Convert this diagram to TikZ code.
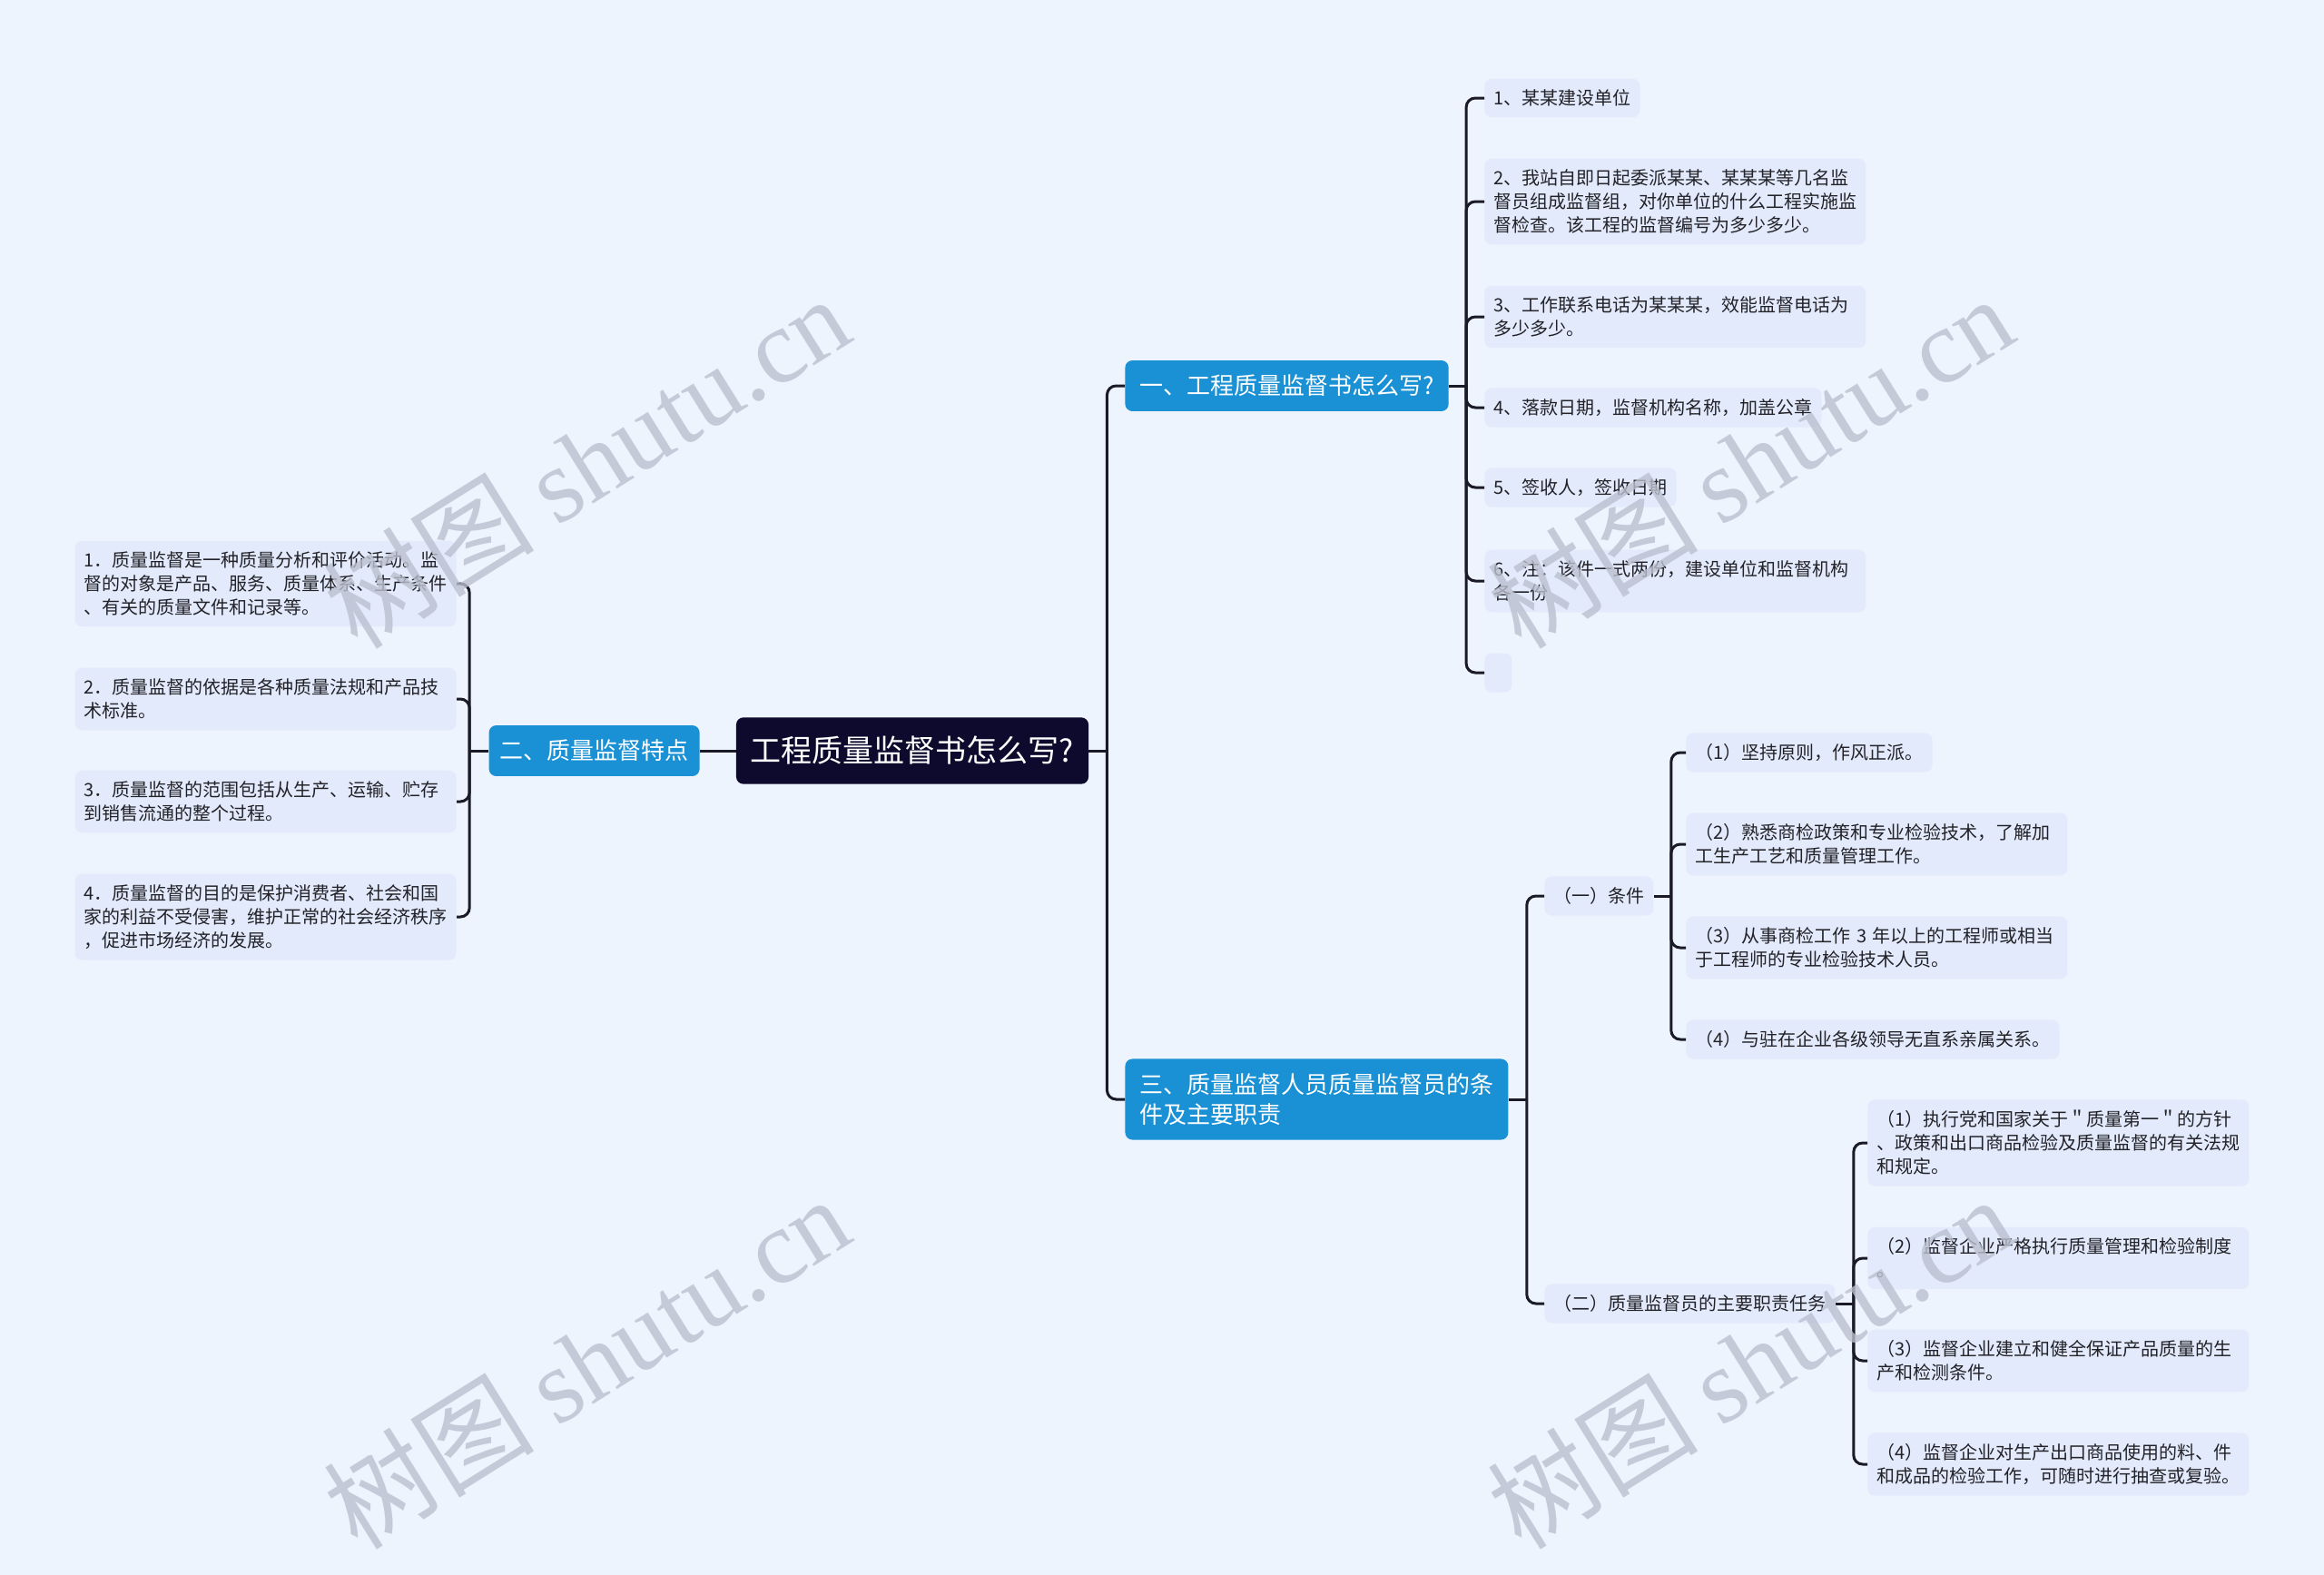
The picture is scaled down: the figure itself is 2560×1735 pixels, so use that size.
\documentclass[tikz,border=0pt]{standalone}
\usepackage{fontspec}
\setmainfont{Noto Sans CJK SC}
\newfontfamily\wmserif{Liberation Serif}
\definecolor{bgblue}{RGB}{238,244,254}
\definecolor{leafblue}{RGB}{226,234,251}
\definecolor{branchblue}{RGB}{26,145,212}
\definecolor{topicnavy}{RGB}{14,10,46}
\definecolor{linkdark}{RGB}{26,26,40}
\definecolor{leaftext}{RGB}{34,34,40}
\definecolor{wmgray}{RGB}{186,192,206}

\begin{document}
\begin{tikzpicture}[x=0.5pt, y=-0.5pt,
  every node/.style={rounded corners=4pt, align=left},
  topic/.style={fill=topicnavy, text=white, inner xsep=8pt, inner ysep=10.5pt,
    font=\fontsize{17}{20}\selectfont},
  branch/.style={fill=branchblue, text=white, inner xsep=8pt, inner ysep=8pt,
    font=\fontsize{13}{16.5}\selectfont},
  sub/.style={fill=leafblue, text=leaftext, inner xsep=5pt, inner ysep=6pt,
    font=\fontsize{10}{13}\selectfont},
  leaf/.style={fill=leafblue, text=leaftext, inner xsep=5pt, inner ysep=6pt,
    font=\fontsize{10}{13}\selectfont},
  wide/.style={text width=200pt},
  link/.style={draw=linkdark, line width=1.5pt, rounded corners=5pt},
  wmark/.style={rotate=32, text=wmgray, text opacity=0.8, font=\fontsize{58}{62}\selectfont}]

\useasboundingbox (0,0) rectangle (2560,1735);
\fill[bgblue] (0,0) rectangle (2560,1735);

% centre
\node[topic] (topic) at (1005,827) {工程质量监督书怎么写?};

% main branches
\node[branch, anchor=west] (b1) at (1239,425) {一、工程质量监督书怎么写?};
\node[branch, anchor=east, inner xsep=6pt] (b2) at (771,827) {二、质量监督特点};
\node[branch, anchor=west] (b3) at (1239,1211) {三、质量监督人员质量监督员的条\\件及主要职责};

% branch one
\node[leaf, anchor=west] (a1) at (1635,108) {1、某某建设单位};
\node[leaf, wide, anchor=west] (a2) at (1635,222) {2、我站自即日起委派某某、某某某等几名监\\督员组成监督组，对你单位的什么工程实施监\\督检查。该工程的监督编号为多少多少。};
\node[leaf, wide, anchor=west] (a3) at (1635,349) {3、工作联系电话为某某某，效能监督电话为\\多少多少。};
\node[leaf, anchor=west] (a4) at (1635,449) {4、落款日期，监督机构名称，加盖公章};
\node[leaf, anchor=west] (a5) at (1635,537) {5、签收人，签收日期};
\node[leaf, wide, anchor=west] (a6) at (1635,640) {6、注：该件一式两份，建设单位和监督机构\\各一份};
\node[leaf, minimum width=15pt, minimum height=21.5pt, anchor=west] (a7) at (1635,741) {};

% branch two
\node[leaf, wide, anchor=east] (l1) at (503,643) {1．质量监督是一种质量分析和评价活动。监\\督的对象是产品、服务、质量体系、生产条件\\、有关的质量文件和记录等。};
\node[leaf, wide, anchor=east] (l2) at (503,770) {2．质量监督的依据是各种质量法规和产品技\\术标准。};
\node[leaf, wide, anchor=east] (l3) at (503,883) {3．质量监督的范围包括从生产、运输、贮存\\到销售流通的整个过程。};
\node[leaf, wide, anchor=east] (l4) at (503,1010) {4．质量监督的目的是保护消费者、社会和国\\家的利益不受侵害，维护正常的社会经济秩序\\，促进市场经济的发展。};

% branch three
\node[sub, anchor=west] (s1) at (1701,987) {（一）条件};
\node[sub, anchor=west] (s2) at (1701,1436) {（二）质量监督员的主要职责任务};

\node[leaf, anchor=west] (c1) at (1857,829) {（1）坚持原则，作风正派。};
\node[leaf, wide, anchor=west] (c2) at (1857,930) {（2）熟悉商检政策和专业检验技术，了解加\\工生产工艺和质量管理工作。};
\node[leaf, wide, anchor=west] (c3) at (1857,1044) {（3）从事商检工作 3 年以上的工程师或相当\\于工程师的专业检验技术人员。};
\node[leaf, anchor=west] (c4) at (1857,1145) {（4）与驻在企业各级领导无直系亲属关系。};

\node[leaf, wide, anchor=west] (d1) at (2057,1259) {（1）执行党和国家关于＂质量第一＂的方针\\、政策和出口商品检验及质量监督的有关法规\\和规定。};
\node[leaf, wide, anchor=west] (d2) at (2057,1386) {（2）监督企业严格执行质量管理和检验制度\\。};
\node[leaf, wide, anchor=west] (d3) at (2057,1499) {（3）监督企业建立和健全保证产品质量的生\\产和检测条件。};
\node[leaf, wide, anchor=west] (d4) at (2057,1613) {（4）监督企业对生产出口商品使用的料、件\\和成品的检验工作，可随时进行抽查或复验。};

% connectors
\draw[link] (topic.west) -- (b2.east);
\draw[link] (topic.east) -- ++(20,0) coordinate (tj);
\draw[link] (tj) |- (b1.west);
\draw[link] (tj) |- (b3.west);

\draw[link] (b1.east) -- ++(19,0) coordinate (aj);
\foreach \n in {a1,a2,a3,a4,a5,a6,a7}
  \draw[link] (aj) |- (\n.west);

\draw[link] (b2.west) -- ++(-21,0) coordinate (lj);
\foreach \n in {l1,l2,l3,l4}
  \draw[link] (lj) |- (\n.east);

\draw[link] (b3.east) -- ++(20,0) coordinate (bj);
\draw[link] (bj) |- (s1.west);
\draw[link] (bj) |- (s2.west);

\draw[link] (s1.east) -- ++(19,0) coordinate (cj);
\foreach \n in {c1,c2,c3,c4}
  \draw[link] (cj) |- (\n.west);

\draw[link] (s2.east) -- ++(20,0) coordinate (dj);
\foreach \n in {d1,d2,d3,d4}
  \draw[link] (dj) |- (\n.west);

% watermark
\node[wmark] (wm1) at (646,508) {树图 {\wmserif shutu.cn}};
\node[wmark] (wm2) at (1928,508) {树图 {\wmserif shutu.cn}};
\node[wmark] (wm3) at (646,1500) {树图 {\wmserif shutu.cn}};
\node[wmark] (wm4) at (1928,1500) {树图 {\wmserif shutu.cn}};
\end{tikzpicture}
\end{document}
